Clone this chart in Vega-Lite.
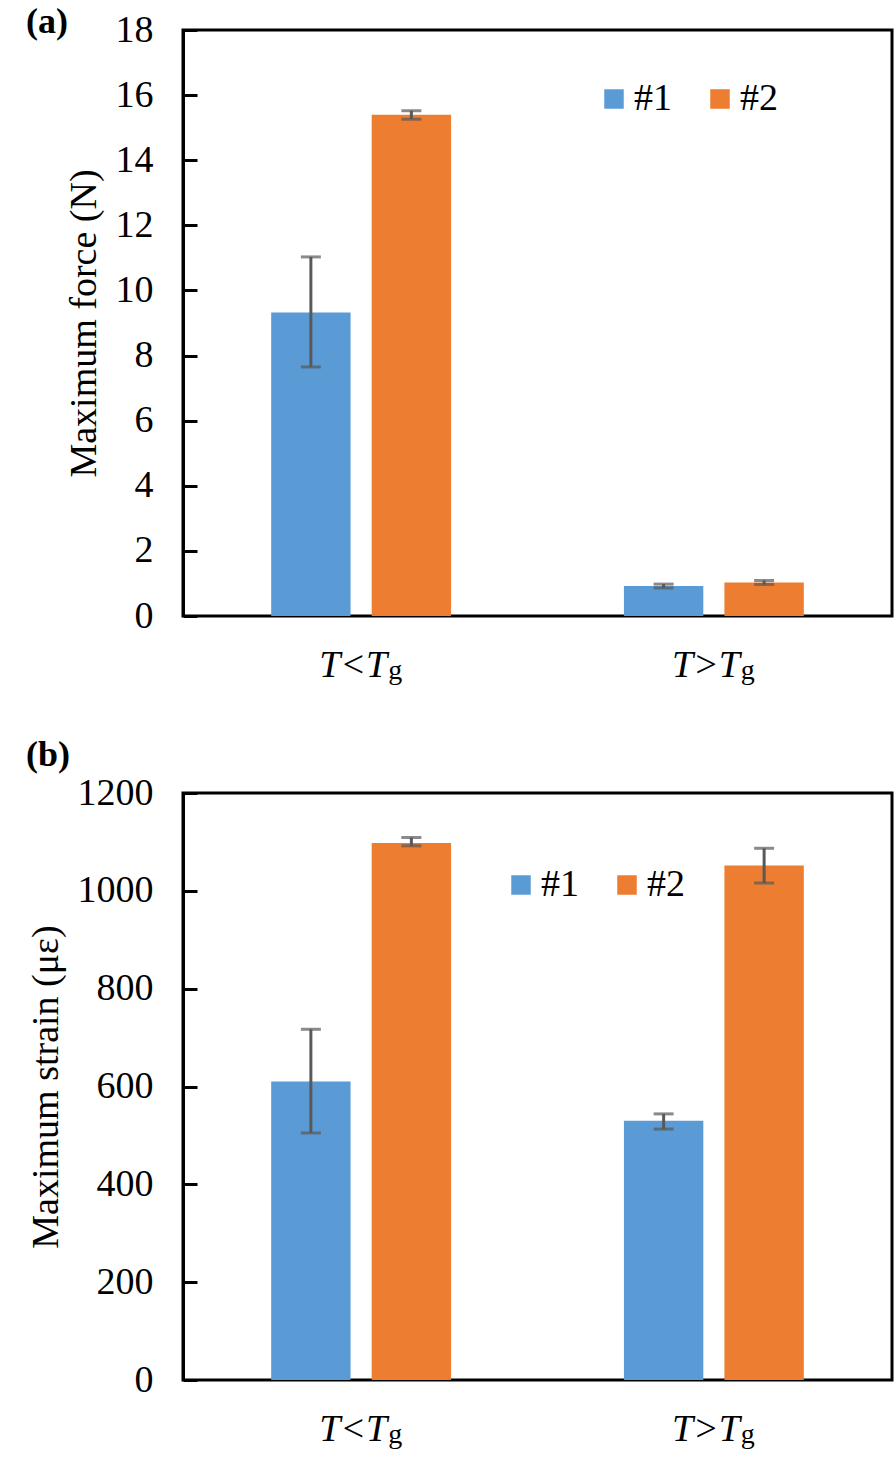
{
  "$schema": "https://vega.github.io/schema/vega-lite/v6.json",
  "background": "white",
  "padding": {"left": 24, "top": 2, "right": 4, "bottom": 4},
  "config": {
    "font": "Liberation Serif, Times New Roman, serif",
    "view": {"stroke": "black", "strokeWidth": 3},
    "axis": {"labelFont": "Liberation Serif, Times New Roman, serif", "titleFont": "Liberation Serif, Times New Roman, serif", "labelColor": "black", "titleColor": "black", "grid": false, "labelFontSize": 38, "titleFontSize": 38, "titleFontWeight": "normal"},
    "legend": {"labelFont": "Liberation Serif, Times New Roman, serif", "labelFontSize": 38, "labelColor": "black"}
  },
  "resolve": {"scale": {"color": "independent"}, "legend": {"color": "independent"}},
  "spacing": 49,
  "vconcat": [
    {
      "width": 709,
      "height": 586,
      "title": {"text": "(a)", "anchor": "start", "frame": "group", "dx": -157, "fontSize": 36, "fontWeight": "bold", "font": "Liberation Serif, Times New Roman, serif", "color": "black", "offset": -30},
      "data": {"values": [
        {"cat": "T<Tg", "s": "#1", "v": 9.32, "lo": 7.65, "hi": 11.03},
        {"cat": "T<Tg", "s": "#2", "v": 15.40, "lo": 15.26, "hi": 15.52},
        {"cat": "T>Tg", "s": "#1", "v": 0.92, "lo": 0.86, "hi": 0.98},
        {"cat": "T>Tg", "s": "#2", "v": 1.03, "lo": 0.97, "hi": 1.09}
      ]},
      "resolve": {"scale": {"x": "independent", "xOffset": "independent"}, "axis": {"x": "independent"}},
      "layer": [
        {
          "mark": {"type": "bar"},
          "encoding": {
            "x": {"field": "cat", "type": "nominal", "sort": ["T<Tg", "T>Tg"], "scale": {"paddingInner": 0.49, "paddingOuter": 0.25},
              "axis": {"title": null, "orient": "bottom", "domain": false, "ticks": false, "labelExpr": "slice(datum.label,0,3)", "labelFontStyle": "italic", "labelAlign": "right", "labelOffset": 26, "labelBaseline": "alphabetic", "labelPadding": 60, "labelAngle": 0}},
            "xOffset": {"field": "s", "type": "nominal", "sort": ["#1", "#2"], "scale": {"paddingInner": 0.21, "paddingOuter": 0}},
            "y": {"field": "v", "type": "quantitative", "title": "Maximum force (N)", "scale": {"domain": [0, 18]},
              "axis": {"values": [0, 2, 4, 6, 8, 10, 12, 14, 16, 18], "tickSize": -14, "tickWidth": 3, "tickColor": "black", "domainColor": "black", "domainWidth": 3, "labelPadding": 44, "titlePadding": 12}},
            "color": {"field": "s", "type": "nominal", "scale": {"domain": ["#1", "#2"], "range": ["#5B9BD5", "#ED7D31"]},
              "legend": {"orient": "none", "legendX": 412, "legendY": 50, "direction": "horizontal", "title": null, "symbolType": "square", "symbolSize": 380, "symbolStrokeWidth": 0, "symbolOpacity": 1, "columnPadding": 29, "labelOffset": 1}}
          }
        },
        {
          "mark": {"type": "rule", "color": "#595959", "strokeWidth": 3},
          "encoding": {
            "x": {"field": "cat", "type": "nominal", "sort": ["T<Tg", "T>Tg"], "scale": {"paddingInner": 0.49, "paddingOuter": 0.25},
              "axis": {"title": null, "orient": "bottom", "domain": false, "ticks": false, "labelExpr": "'g'", "labelFontSize": 28, "labelFontStyle": "normal", "labelAlign": "left", "labelOffset": 27, "labelBaseline": "alphabetic", "labelPadding": 62, "labelAngle": 0}},
            "xOffset": {"field": "s", "type": "nominal", "sort": ["#1", "#2"], "scale": {"paddingInner": 0.21, "paddingOuter": 0}},
            "y": {"field": "lo", "type": "quantitative", "title": "Maximum force (N)"},
            "y2": {"field": "hi"}
          }
        },
        {
          "mark": {"type": "tick", "color": "#595959", "thickness": 3, "size": 20},
          "encoding": {
            "x": {"field": "cat", "type": "nominal", "sort": ["T<Tg", "T>Tg"], "scale": {"paddingInner": 0.49, "paddingOuter": 0.25}, "axis": null},
            "xOffset": {"field": "s", "type": "nominal", "sort": ["#1", "#2"], "scale": {"paddingInner": 0.21, "paddingOuter": 0}},
            "y": {"field": "lo", "type": "quantitative", "title": "Maximum force (N)"}
          }
        },
        {
          "mark": {"type": "tick", "color": "#595959", "thickness": 3, "size": 20},
          "encoding": {
            "x": {"field": "cat", "type": "nominal", "sort": ["T<Tg", "T>Tg"], "scale": {"paddingInner": 0.49, "paddingOuter": 0.25}, "axis": null},
            "xOffset": {"field": "s", "type": "nominal", "sort": ["#1", "#2"], "scale": {"paddingInner": 0.21, "paddingOuter": 0}},
            "y": {"field": "hi", "type": "quantitative", "title": "Maximum force (N)"}
          }
        }
      ]
    },
    {
      "width": 709,
      "height": 587,
      "title": {"text": "(b)", "anchor": "start", "frame": "group", "dx": -157, "fontSize": 36, "fontWeight": "bold", "font": "Liberation Serif, Times New Roman, serif", "color": "black", "offset": 0},
      "data": {"values": [
        {"cat": "T<Tg", "s": "#1", "v": 610, "lo": 505, "hi": 717},
        {"cat": "T<Tg", "s": "#2", "v": 1098, "lo": 1092, "hi": 1109},
        {"cat": "T>Tg", "s": "#1", "v": 530, "lo": 513, "hi": 544},
        {"cat": "T>Tg", "s": "#2", "v": 1052, "lo": 1016, "hi": 1087}
      ]},
      "resolve": {"scale": {"x": "independent", "xOffset": "independent"}, "axis": {"x": "independent"}},
      "layer": [
        {
          "mark": {"type": "bar"},
          "encoding": {
            "x": {"field": "cat", "type": "nominal", "sort": ["T<Tg", "T>Tg"], "scale": {"paddingInner": 0.49, "paddingOuter": 0.25},
              "axis": {"title": null, "orient": "bottom", "domain": false, "ticks": false, "labelExpr": "slice(datum.label,0,3)", "labelFontStyle": "italic", "labelAlign": "right", "labelOffset": 26, "labelBaseline": "alphabetic", "labelPadding": 60, "labelAngle": 0}},
            "xOffset": {"field": "s", "type": "nominal", "sort": ["#1", "#2"], "scale": {"paddingInner": 0.21, "paddingOuter": 0}},
            "y": {"field": "v", "type": "quantitative", "title": "Maximum strain (με)", "scale": {"domain": [0, 1200]},
              "axis": {"values": [0, 200, 400, 600, 800, 1000, 1200], "format": "d", "tickSize": -14, "tickWidth": 3, "tickColor": "black", "domainColor": "black", "domainWidth": 3, "labelPadding": 44, "titlePadding": 12}},
            "color": {"field": "s", "type": "nominal", "scale": {"domain": ["#1", "#2"], "range": ["#5B9BD5", "#ED7D31"]},
              "legend": {"orient": "none", "legendX": 319, "legendY": 73, "direction": "horizontal", "title": null, "symbolType": "square", "symbolSize": 380, "symbolStrokeWidth": 0, "symbolOpacity": 1, "columnPadding": 29, "labelOffset": 1}}
          }
        },
        {
          "mark": {"type": "rule", "color": "#595959", "strokeWidth": 3},
          "encoding": {
            "x": {"field": "cat", "type": "nominal", "sort": ["T<Tg", "T>Tg"], "scale": {"paddingInner": 0.49, "paddingOuter": 0.25},
              "axis": {"title": null, "orient": "bottom", "domain": false, "ticks": false, "labelExpr": "'g'", "labelFontSize": 28, "labelFontStyle": "normal", "labelAlign": "left", "labelOffset": 27, "labelBaseline": "alphabetic", "labelPadding": 62, "labelAngle": 0}},
            "xOffset": {"field": "s", "type": "nominal", "sort": ["#1", "#2"], "scale": {"paddingInner": 0.21, "paddingOuter": 0}},
            "y": {"field": "lo", "type": "quantitative", "title": "Maximum strain (με)"},
            "y2": {"field": "hi"}
          }
        },
        {
          "mark": {"type": "tick", "color": "#595959", "thickness": 3, "size": 20},
          "encoding": {
            "x": {"field": "cat", "type": "nominal", "sort": ["T<Tg", "T>Tg"], "scale": {"paddingInner": 0.49, "paddingOuter": 0.25}, "axis": null},
            "xOffset": {"field": "s", "type": "nominal", "sort": ["#1", "#2"], "scale": {"paddingInner": 0.21, "paddingOuter": 0}},
            "y": {"field": "lo", "type": "quantitative", "title": "Maximum strain (με)"}
          }
        },
        {
          "mark": {"type": "tick", "color": "#595959", "thickness": 3, "size": 20},
          "encoding": {
            "x": {"field": "cat", "type": "nominal", "sort": ["T<Tg", "T>Tg"], "scale": {"paddingInner": 0.49, "paddingOuter": 0.25}, "axis": null},
            "xOffset": {"field": "s", "type": "nominal", "sort": ["#1", "#2"], "scale": {"paddingInner": 0.21, "paddingOuter": 0}},
            "y": {"field": "hi", "type": "quantitative", "title": "Maximum strain (με)"}
          }
        }
      ]
    }
  ]
}
